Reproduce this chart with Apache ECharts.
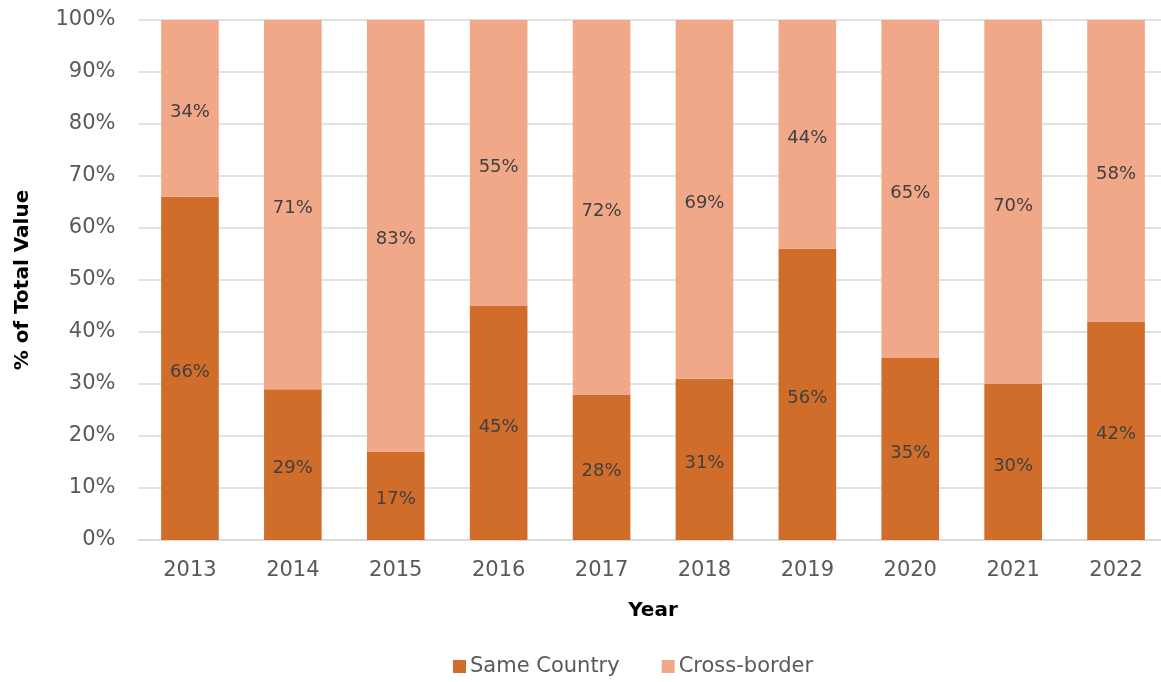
<!DOCTYPE html>
<html>
<head>
<meta charset="utf-8">
<script src="https://cdn.jsdelivr.net/npm/echarts@6/dist/echarts.min.js"></script>
<style>
  html, body { margin: 0; padding: 0; background: #fff; }
  #chart { width: 1161px; height: 682px; }
</style>
</head>
<body>
<div id="chart"></div>
<script>
// Share of total deal value by year, split by where the counterparties are based
const years = ['2013', '2014', '2015', '2016', '2017', '2018', '2019', '2020', '2021', '2022'];
const sameCountry = [66, 29, 17, 45, 28, 31, 56, 35, 30, 42];
const crossBorder = [34, 71, 83, 55, 72, 69, 44, 65, 70, 58];
const yTicks = [0, 10, 20, 30, 40, 50, 60, 70, 80, 90, 100];

const FONT = 'DejaVu Sans';

const segmentLabel = {
  show: true,
  position: 'inside',
  offset: [0, 4],
  formatter: p => p.value + '%',
  color: '#404040',
  fontFamily: FONT,
  fontSize: 18
};

const chart = echarts.init(document.getElementById('chart'), null, { renderer: 'canvas' });
chart.setOption({
  animation: false,
  textStyle: { fontFamily: FONT },
  grid: { left: 138.5, top: 20, width: 1029, height: 520, containLabel: false, outerBoundsMode: 'none' },
  legend: {
    top: 651,
    left: 448,
    itemWidth: 13,
    itemHeight: 13,
    itemGap: 42,
    icon: 'rect',
    textStyle: { color: '#595959', fontSize: 21, fontFamily: FONT, padding: [0, 0, 0, -1] },
    data: ['Same Country', 'Cross-border']
  },
  xAxis: {
    type: 'category',
    data: years,
    name: 'Year',
    nameLocation: 'middle',
    nameGap: 61,
    nameTextStyle: { color: '#000', fontSize: 20, fontWeight: 'bold', fontFamily: FONT },
    axisLine: { show: true, lineStyle: { color: '#d9d9d9', width: 1.5 } },
    axisTick: { show: false },
    axisLabel: { color: '#595959', fontSize: 21, margin: 20, fontFamily: FONT }
  },
  yAxis: {
    type: 'value',
    min: yTicks[0],
    max: yTicks[yTicks.length - 1],
    interval: 10,
    name: '% of Total Value',
    nameLocation: 'middle',
    nameGap: 106,
    nameRotate: 90,
    nameTextStyle: { color: '#000', fontSize: 20, fontWeight: 'bold', fontFamily: FONT },
    axisLine: { show: false },
    axisTick: { show: false },
    axisLabel: { color: '#595959', fontSize: 21, margin: 23, fontFamily: FONT, formatter: v => v + '%' },
    splitLine: { lineStyle: { color: '#d9d9d9', width: 1.5 } }
  },
  series: [
    {
      name: 'Same Country',
      type: 'bar',
      stack: 'share',
      data: sameCountry,
      barWidth: '56%',
      itemStyle: { color: '#D16D2A' },
      label: segmentLabel
    },
    {
      name: 'Cross-border',
      type: 'bar',
      stack: 'share',
      data: crossBorder,
      barWidth: '56%',
      itemStyle: { color: '#F0A889' },
      label: segmentLabel
    }
  ]
});
</script>
</body>
</html>
